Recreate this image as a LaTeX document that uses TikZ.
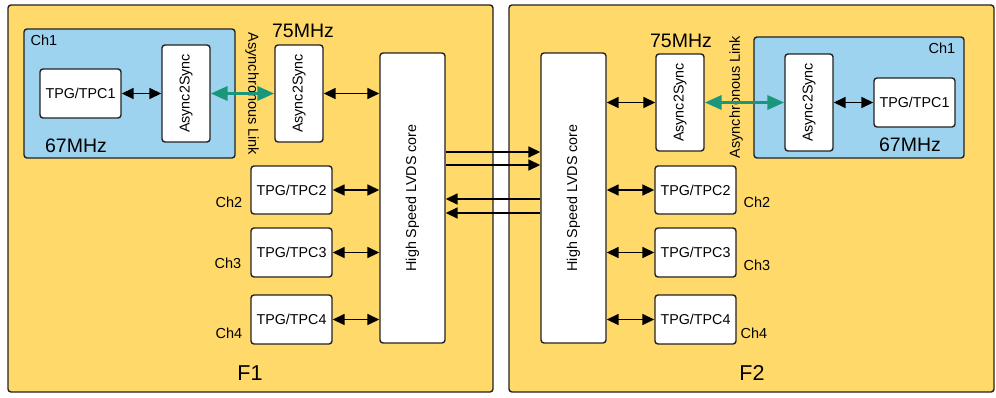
\documentclass[tikz,border=0pt]{standalone}
\usepackage{fontspec}
\setmainfont{Liberation Sans}
\usetikzlibrary{arrows.meta}
\definecolor{fpgay}{RGB}{255,217,106}
\definecolor{chblue}{RGB}{158,211,240}
\definecolor{linkgreen}{RGB}{26,150,122}
\definecolor{edge}{RGB}{34,34,34}
\tikzset{
  fpga/.style={draw=edge, line width=1.4pt, fill=fpgay, rounded corners=3pt},
  chbox/.style={draw=edge, line width=1.4pt, fill=chblue, rounded corners=3pt},
  blk/.style={draw=edge, line width=1.4pt, fill=white, rounded corners=3pt, inner sep=0pt, font=\fontsize{14.3}{16}\selectfont},
  lbl/.style={inner sep=0pt, font=\fontsize{14.5}{16}\selectfont},
  mhz/.style={inner sep=0pt, font=\fontsize{19.5}{22}\selectfont},
  flbl/.style={inner sep=0pt, font=\fontsize{21.5}{24}\selectfont},
  dbl/.style={line width=1.6pt, {Triangle[length=12pt,width=11pt]}-{Triangle[length=12pt,width=11pt]}},
  onew/.style={line width=1.6pt, -{Triangle[length=12pt,width=11pt]}},
  glink/.style={line width=3.4pt, draw=linkgreen, {Triangle[length=17pt,width=14pt]}-{Triangle[length=17pt,width=14pt]}},
}
\begin{document}
\begin{tikzpicture}[x=1pt,y=-1pt]
\useasboundingbox (0,0) rectangle (996,397);
% FPGA boxes
\draw[fpga] (8,5) rectangle (493,392);
\draw[fpga] (509,5) rectangle (994,392);
% Ch1 blue boxes
\draw[chbox] (24,29) rectangle (235,158);
\draw[chbox] (754,37) rectangle (964,158);

% ---------- F1 ----------
\node[blk, minimum width=81pt, minimum height=49pt] (t1a) at (80.5,93.5) {TPG/TPC1};
\node[blk, minimum width=48pt, minimum height=97pt] (ai1) at (186,93.5) {\rotatebox{90}{Async2Sync}};
\node[blk, minimum width=48pt, minimum height=97pt] (ao1) at (299,93.5) {\rotatebox{90}{Async2Sync}};
\node[blk, minimum width=65pt, minimum height=290pt] (core1) at (412.5,198) {\rotatebox{90}{High Speed LVDS core}};
\node[blk, minimum width=81pt, minimum height=48pt] (t2a) at (291.5,190) {TPG/TPC2};
\node[blk, minimum width=81pt, minimum height=49pt] (t3a) at (291.5,252.5) {TPG/TPC3};
\node[blk, minimum width=81pt, minimum height=49pt] (t4a) at (291.5,319.5) {TPG/TPC4};

\node[lbl] (c1a) at (44,40) {Ch1};
\node[mhz] (m67a) at (76,146) {67MHz};
\node[mhz] (m75a) at (303,31) {75MHz};
\node[lbl, rotate=-90] (alA) at (252,94) {Asynchronous Link};
\node[lbl] (c2a) at (229,202) {Ch2};
\node[lbl] (c3a) at (228,263) {Ch3};
\node[lbl] (c4a) at (229,333) {Ch4};
\node[flbl] (f1) at (250,373) {F1};

\draw[dbl] (t1a.east) -- (ai1.west);
\draw[glink] (ai1.east) -- (ao1.west);
\draw[dbl] (ao1.east) -- (core1.west |- ao1.east);
\draw[dbl] (t2a.east) -- (core1.west |- t2a.east);
\draw[dbl] (t3a.east) -- (core1.west |- t3a.east);
\draw[dbl] (t4a.east) -- (core1.west |- t4a.east);

% ---------- F2 ----------
\node[blk, minimum width=65pt, minimum height=290pt] (core2) at (573.5,198) {\rotatebox{90}{High Speed LVDS core}};
\node[blk, minimum width=48pt, minimum height=97pt] (ao2) at (680,102.5) {\rotatebox{90}{Async2Sync}};
\node[blk, minimum width=48pt, minimum height=97pt] (ai2) at (809,102.5) {\rotatebox{90}{Async2Sync}};
\node[blk, minimum width=81pt, minimum height=49pt] (t1b) at (914.5,102.5) {TPG/TPC1};
\node[blk, minimum width=81pt, minimum height=48pt] (t2b) at (695.5,190) {TPG/TPC2};
\node[blk, minimum width=81pt, minimum height=49pt] (t3b) at (695.5,252.5) {TPG/TPC3};
\node[blk, minimum width=81pt, minimum height=49pt] (t4b) at (695.5,319.5) {TPG/TPC4};

\node[lbl] (c1b) at (942,48) {Ch1};
\node[mhz] (m67b) at (910,145) {67MHz};
\node[mhz] (m75b) at (681,41) {75MHz};
\node[lbl, rotate=90] (alB) at (736,97) {Asynchronous Link};
\node[lbl] (c2b) at (757,202) {Ch2};
\node[lbl] (c3b) at (757,265) {Ch3};
\node[lbl] (c4b) at (754,333) {Ch4};
\node[flbl] (f2) at (752,373) {F2};

\draw[dbl] (core2.east |- ao2.west) -- (ao2.west);
\draw[glink] (ao2.east) -- (ai2.west);
\draw[dbl] (ai2.east) -- (t1b.west);
\draw[dbl] (core2.east |- t2b.west) -- (t2b.west);
\draw[dbl] (core2.east |- t3b.west) -- (t3b.west);
\draw[dbl] (core2.east |- t4b.west) -- (t4b.west);

% ---------- inter-FPGA links ----------
\coordinate (ya) at (0,152);
\coordinate (yb) at (0,165);
\coordinate (yc) at (0,199);
\coordinate (yd) at (0,213);
\draw[onew] (core1.east |- ya) -- (core2.west |- ya);
\draw[onew] (core1.east |- yb) -- (core2.west |- yb);
\draw[onew] (core2.west |- yc) -- (core1.east |- yc);
\draw[onew] (core2.west |- yd) -- (core1.east |- yd);
\end{tikzpicture}
\end{document}
